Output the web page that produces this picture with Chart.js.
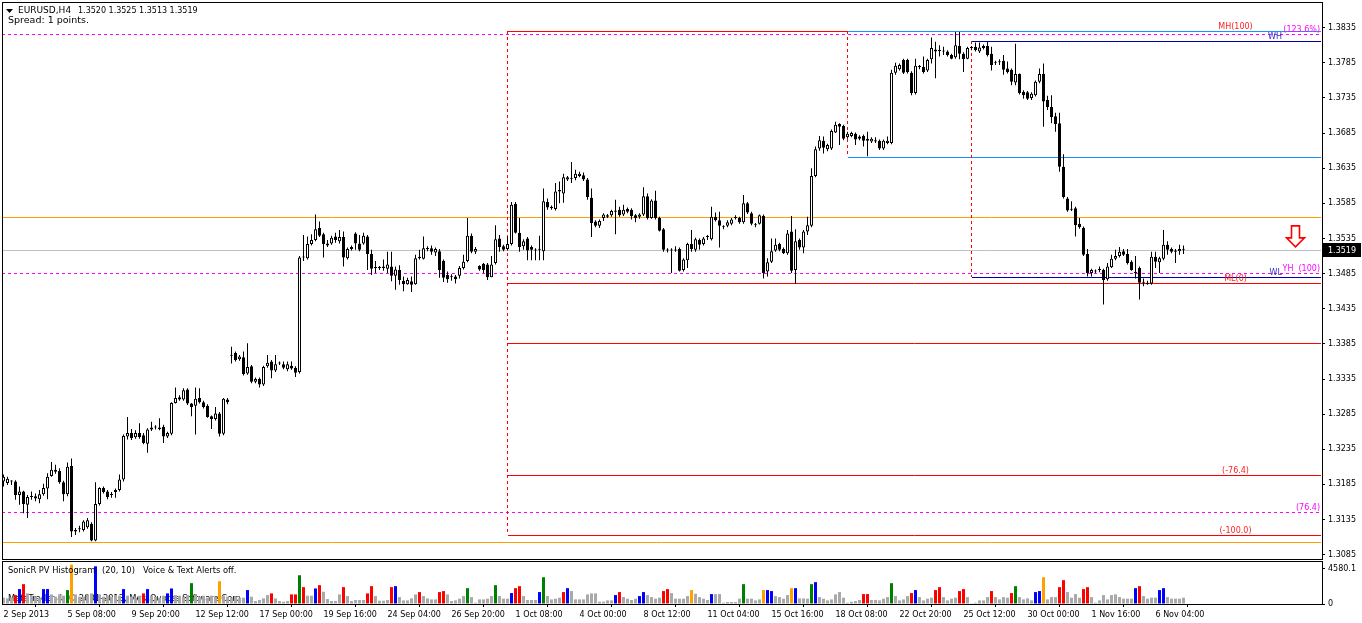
<!DOCTYPE html>
<html>
<head>
<meta charset="utf-8">
<script src="https://cdn.jsdelivr.net/npm/chart.js@4.4.1/dist/chart.umd.min.js"></script>
<style>
html, body { margin:0; padding:0; background:#fff; overflow:hidden; }
#wrap { position:relative; width:1362px; height:623px; }
#priceBox { position:absolute; left:0; top:0; width:1362px; height:560px; }
#volBox { position:absolute; left:0; top:560px; width:1362px; height:63px; }
</style>
</head>
<body>
<div id="wrap">
  <div id="priceBox"><canvas id="priceChart"></canvas></div>
  <div id="volBox"><canvas id="volChart"></canvas></div>
</div>
<script>
// EURUSD H4 candles, 2 Sep 2013 -> 6 Nov 2013
const opens = [
1.3189,1.3187,1.3190,1.3189,1.3170,1.3175,1.3156,1.3167,1.3168,1.3164,1.3171,1.3179,1.3197,1.3206,1.3204,1.3188,1.3171,1.3211,1.3118,1.3121,
1.3120,1.3124,1.3129,1.3105,1.3157,1.3180,1.3175,1.3170,1.3174,1.3177,1.3192,1.3253,1.3258,1.3252,1.3258,1.3255,1.3243,1.3263,1.3266,1.3266,
1.3267,1.3253,1.3257,1.3301,1.3309,1.3306,1.3320,1.3300,1.3297,1.3308,1.3302,1.3297,1.3282,1.3278,1.3286,1.3257,1.3306,1.3368,1.3372,1.3363,
1.3366,1.3343,1.3353,1.3331,1.3335,1.3327,1.3353,1.3360,1.3347,1.3357,1.3356,1.3349,1.3354,1.3351,1.3345,1.3508,1.3507,1.3527,1.3533,1.3550,
1.3541,1.3528,1.3528,1.3538,1.3531,1.3537,1.3507,1.3520,1.3542,1.3528,1.3528,1.3538,1.3513,1.3493,1.3493,1.3493,1.3492,1.3495,1.3482,1.3490,
1.3475,1.3470,1.3474,1.3470,1.3507,1.3506,1.3521,1.3521,1.3515,1.3517,1.3503,1.3483,1.3480,1.3481,1.3482,1.3493,1.3503,1.3539,1.3516,1.3496,
1.3499,1.3498,1.3480,1.3500,1.3535,1.3524,1.3520,1.3527,1.3584,1.3543,1.3524,1.3535,1.3523,1.3519,1.3519,1.3517,1.3587,1.3580,1.3577,1.3602,
1.3599,1.3619,1.3620,1.3621,1.3624,1.3625,1.3619,1.3593,1.3559,1.3553,1.3564,1.3566,1.3568,1.3575,1.3576,1.3569,1.3577,1.3576,1.3568,1.3566,
1.3569,1.3595,1.3564,1.3589,1.3564,1.3548,1.3519,1.3518,1.3519,1.3520,1.3490,1.3504,1.3527,1.3519,1.3533,1.3527,1.3537,1.3534,1.3566,1.3561,
1.3551,1.3553,1.3556,1.3565,1.3564,1.3558,1.3585,1.3571,1.3555,1.3556,1.3567,1.3488,1.3502,1.3518,1.3527,1.3520,1.3514,1.3545,1.3490,1.3533,
1.3522,1.3545,1.3553,1.3624,1.3663,1.3674,1.3662,1.3663,1.3686,1.3698,1.3695,1.3679,1.3681,1.3684,1.3680,1.3681,1.3674,1.3673,1.3675,1.3674,
1.3663,1.3671,1.3671,1.3771,1.3776,1.3789,1.3789,1.3771,1.3742,1.3780,1.3779,1.3774,1.3790,1.3801,1.3803,1.3801,1.3801,1.3796,1.3793,1.3809,
1.3798,1.3791,1.3806,1.3808,1.3801,1.3806,1.3809,1.3798,1.3785,1.3786,1.3788,1.3777,1.3775,1.3757,1.3769,1.3744,1.3743,1.3735,1.3739,1.3758,
1.3769,1.3732,1.3722,1.3709,1.3699,1.3637,1.3592,1.3576,1.3578,1.3556,1.3550,1.3513,1.3486,1.3488,1.3490,1.3490,1.3477,1.3494,1.3506,1.3510,
1.3517,1.3513,1.3502,1.3486,1.3493,1.3472,1.3470,1.3471,1.3509,1.3501,1.3506,1.3526,1.3520,1.3518,1.3517,1.3520
];
const highs = [
1.3199,1.3196,1.3191,1.3191,1.3182,1.3176,1.3170,1.3175,1.3172,1.3177,1.3186,1.3201,1.3217,1.3213,1.3208,1.3190,1.3216,1.3222,1.3123,1.3126,
1.3134,1.3137,1.3131,1.3188,1.3181,1.3182,1.3177,1.3174,1.3179,1.3199,1.3256,1.3281,1.3264,1.3262,1.3272,1.3258,1.3265,1.3274,1.3269,1.3279,
1.3270,1.3260,1.3302,1.3323,1.3312,1.3322,1.3322,1.3301,1.3323,1.3322,1.3304,1.3299,1.3283,1.3295,1.3288,1.3308,1.3308,1.3381,1.3374,1.3369,
1.3374,1.3386,1.3355,1.3337,1.3337,1.3354,1.3369,1.3362,1.3369,1.3360,1.3360,1.3360,1.3360,1.3353,1.3510,1.3540,1.3538,1.3541,1.3569,1.3559,
1.3543,1.3533,1.3539,1.3543,1.3547,1.3545,1.3522,1.3525,1.3544,1.3540,1.3543,1.3540,1.3519,1.3503,1.3496,1.3505,1.3516,1.3516,1.3495,1.3497,
1.3481,1.3479,1.3481,1.3512,1.3519,1.3538,1.3524,1.3525,1.3522,1.3520,1.3505,1.3488,1.3484,1.3483,1.3496,1.3512,1.3564,1.3542,1.3523,1.3497,
1.3500,1.3500,1.3510,1.3554,1.3540,1.3526,1.3538,1.3587,1.3587,1.3564,1.3534,1.3537,1.3525,1.3521,1.3539,1.3606,1.3592,1.3582,1.3614,1.3616,
1.3627,1.3624,1.3644,1.3633,1.3630,1.3629,1.3621,1.3606,1.3561,1.3562,1.3571,1.3570,1.3576,1.3590,1.3580,1.3583,1.3579,1.3578,1.3570,1.3571,
1.3608,1.3599,1.3591,1.3603,1.3566,1.3550,1.3521,1.3521,1.3524,1.3522,1.3507,1.3529,1.3547,1.3536,1.3535,1.3537,1.3540,1.3580,1.3572,1.3573,
1.3554,1.3561,1.3564,1.3568,1.3566,1.3597,1.3587,1.3573,1.3557,1.3569,1.3569,1.3507,1.3535,1.3535,1.3529,1.3522,1.3547,1.3567,1.3548,1.3535,
1.3547,1.3566,1.3635,1.3666,1.3681,1.3680,1.3670,1.3690,1.3701,1.3699,1.3697,1.3687,1.3687,1.3686,1.3682,1.3683,1.3687,1.3679,1.3679,1.3676,
1.3676,1.3680,1.3775,1.3785,1.3784,1.3791,1.3791,1.3773,1.3791,1.3782,1.3794,1.3791,1.3821,1.3815,1.3810,1.3808,1.3803,1.3798,1.3829,1.3829,
1.3800,1.3808,1.3809,1.3814,1.3814,1.3811,1.3815,1.3808,1.3788,1.3790,1.3796,1.3787,1.3777,1.3812,1.3770,1.3746,1.3745,1.3743,1.3760,1.3777,
1.3784,1.3738,1.3739,1.3714,1.3714,1.3655,1.3594,1.3588,1.3580,1.3564,1.3552,1.3520,1.3492,1.3491,1.3495,1.3492,1.3500,1.3512,1.3519,1.3523,
1.3520,1.3520,1.3504,1.3510,1.3495,1.3478,1.3475,1.3516,1.3516,1.3509,1.3547,1.3531,1.3522,1.3520,1.3526,1.3525
];
const lows = [
1.3182,1.3184,1.3184,1.3163,1.3156,1.3144,1.3137,1.3163,1.3161,1.3158,1.3169,1.3164,1.3196,1.3200,1.3186,1.3161,1.3168,1.3110,1.3113,1.3117,
1.3118,1.3122,1.3104,1.3104,1.3155,1.3172,1.3164,1.3166,1.3166,1.3175,1.3189,1.3249,1.3248,1.3250,1.3250,1.3242,1.3230,1.3261,1.3263,1.3262,
1.3244,1.3251,1.3255,1.3300,1.3304,1.3304,1.3298,1.3282,1.3256,1.3300,1.3293,1.3280,1.3264,1.3276,1.3253,1.3255,1.3299,1.3357,1.3360,1.3361,
1.3340,1.3341,1.3329,1.3329,1.3323,1.3325,1.3351,1.3336,1.3345,1.3355,1.3349,1.3346,1.3348,1.3338,1.3343,1.3503,1.3505,1.3525,1.3531,1.3537,
1.3508,1.3523,1.3526,1.3529,1.3528,1.3495,1.3505,1.3518,1.3519,1.3517,1.3526,1.3490,1.3483,1.3486,1.3490,1.3489,1.3486,1.3474,1.3462,1.3469,
1.3460,1.3469,1.3459,1.3469,1.3505,1.3505,1.3517,1.3512,1.3510,1.3479,1.3473,1.3472,1.3475,1.3471,1.3478,1.3491,1.3501,1.3514,1.3513,1.3489,
1.3486,1.3476,1.3480,1.3498,1.3516,1.3517,1.3518,1.3525,1.3542,1.3516,1.3519,1.3504,1.3504,1.3504,1.3504,1.3504,1.3576,1.3576,1.3575,1.3585,
1.3586,1.3617,1.3614,1.3618,1.3622,1.3617,1.3590,1.3537,1.3551,1.3550,1.3560,1.3564,1.3566,1.3541,1.3566,1.3567,1.3571,1.3562,1.3558,1.3563,
1.3567,1.3562,1.3563,1.3562,1.3545,1.3516,1.3515,1.3486,1.3516,1.3488,1.3488,1.3493,1.3516,1.3516,1.3519,1.3525,1.3533,1.3532,1.3559,1.3522,
1.3548,1.3551,1.3554,1.3562,1.3556,1.3556,1.3570,1.3554,1.3551,1.3555,1.3478,1.3481,1.3500,1.3516,1.3517,1.3513,1.3512,1.3486,1.3471,1.3519,
1.3514,1.3540,1.3551,1.3622,1.3660,1.3656,1.3659,1.3661,1.3685,1.3668,1.3675,1.3677,1.3679,1.3668,1.3675,1.3666,1.3652,1.3671,1.3671,1.3661,
1.3661,1.3669,1.3669,1.3768,1.3774,1.3769,1.3770,1.3739,1.3740,1.3776,1.3770,1.3772,1.3784,1.3763,1.3794,1.3796,1.3794,1.3790,1.3791,1.3790,
1.3772,1.3790,1.3803,1.3801,1.3799,1.3804,1.3794,1.3774,1.3782,1.3782,1.3768,1.3770,1.3753,1.3753,1.3740,1.3734,1.3732,1.3732,1.3737,1.3756,
1.3694,1.3718,1.3699,1.3687,1.3630,1.3592,1.3573,1.3574,1.3538,1.3549,1.3510,1.3481,1.3481,1.3486,1.3487,1.3441,1.3475,1.3493,1.3504,1.3508,
1.3510,1.3498,1.3489,1.3478,1.3448,1.3467,1.3469,1.3469,1.3493,1.3486,1.3504,1.3512,1.3514,1.3500,1.3512,1.3513
];
const closes = [
1.3196,1.3193,1.3189,1.3170,1.3175,1.3157,1.3167,1.3168,1.3165,1.3171,1.3180,1.3196,1.3206,1.3203,1.3188,1.3171,1.3210,1.3118,1.3120,1.3121,
1.3132,1.3134,1.3105,1.3157,1.3180,1.3174,1.3167,1.3170,1.3177,1.3192,1.3254,1.3258,1.3251,1.3258,1.3252,1.3244,1.3263,1.3266,1.3266,1.3264,
1.3253,1.3258,1.3301,1.3308,1.3306,1.3319,1.3300,1.3295,1.3307,1.3302,1.3295,1.3281,1.3278,1.3286,1.3257,1.3307,1.3302,1.3368,1.3362,1.3367,
1.3342,1.3352,1.3331,1.3335,1.3327,1.3352,1.3358,1.3347,1.3356,1.3357,1.3351,1.3356,1.3350,1.3344,1.3508,1.3509,1.3527,1.3533,1.3548,1.3539,
1.3527,1.3525,1.3536,1.3533,1.3537,1.3508,1.3520,1.3523,1.3528,1.3519,1.3539,1.3513,1.3492,1.3493,1.3493,1.3495,1.3498,1.3482,1.3491,1.3476,
1.3470,1.3476,1.3469,1.3507,1.3509,1.3521,1.3520,1.3516,1.3520,1.3490,1.3479,1.3477,1.3480,1.3477,1.3493,1.3502,1.3539,1.3516,1.3520,1.3491,
1.3490,1.3480,1.3498,1.3534,1.3523,1.3519,1.3527,1.3583,1.3543,1.3523,1.3531,1.3518,1.3519,1.3518,1.3519,1.3588,1.3579,1.3578,1.3602,1.3604,
1.3622,1.3622,1.3620,1.3627,1.3627,1.3619,1.3594,1.3557,1.3553,1.3560,1.3569,1.3568,1.3574,1.3573,1.3568,1.3576,1.3573,1.3567,1.3564,1.3569,
1.3595,1.3564,1.3589,1.3564,1.3546,1.3519,1.3518,1.3519,1.3518,1.3489,1.3505,1.3527,1.3520,1.3534,1.3526,1.3535,1.3537,1.3566,1.3561,1.3553,
1.3551,1.3558,1.3562,1.3564,1.3558,1.3585,1.3572,1.3556,1.3554,1.3568,1.3486,1.3501,1.3517,1.3526,1.3519,1.3514,1.3542,1.3489,1.3531,1.3522,
1.3545,1.3554,1.3624,1.3662,1.3675,1.3664,1.3668,1.3688,1.3697,1.3694,1.3677,1.3684,1.3685,1.3676,1.3677,1.3674,1.3677,1.3677,1.3673,1.3663,
1.3674,1.3674,1.3771,1.3781,1.3782,1.3771,1.3772,1.3742,1.3781,1.3779,1.3772,1.3789,1.3806,1.3804,1.3802,1.3801,1.3796,1.3791,1.3810,1.3798,
1.3790,1.3806,1.3806,1.3803,1.3807,1.3809,1.3796,1.3782,1.3785,1.3786,1.3775,1.3772,1.3758,1.3769,1.3742,1.3739,1.3734,1.3741,1.3758,1.3769,
1.3730,1.3722,1.3708,1.3698,1.3637,1.3594,1.3575,1.3576,1.3554,1.3551,1.3512,1.3486,1.3490,1.3488,1.3490,1.3476,1.3495,1.3506,1.3510,1.3516,
1.3512,1.3500,1.3490,1.3486,1.3472,1.3472,1.3472,1.3509,1.3502,1.3507,1.3526,1.3519,1.3516,1.3516,1.3520,1.3519
];
const volumes = [
820,730,820,1160,1940,2580,1380,1080,950,820,1940,1940,1250,950,1250,1080,1810,5120,1250,950,
950,1250,1380,4900,1250,950,1080,950,1160,1080,1940,1080,950,820,1080,1380,1940,1080,950,820,
1080,1380,2020,1160,1080,950,1160,2710,1160,950,1080,820,1080,950,2970,1080,950,820,950,730,
820,1810,950,390,520,730,1160,1380,730,390,300,390,1250,1250,3740,2190,1080,1080,2020,2450,
1590,650,390,390,1250,2190,1030,390,520,520,520,1380,2320,1030,430,430,520,2190,2320,900,
470,470,730,1250,1550,1030,730,600,600,1550,1680,1250,390,470,690,1030,2060,900,170,600,
600,690,1030,2450,1030,690,690,1420,2060,2320,1030,520,520,520,1550,3480,1030,600,690,820,
1550,2060,1680,600,600,600,1250,1380,1380,300,300,470,470,1160,1550,900,690,520,690,1030,
1550,1160,900,690,820,1680,1940,1420,690,690,690,1030,1810,1330,900,690,520,1290,1290,1290,
170,260,260,260,690,2580,690,690,470,600,1810,1810,1680,1030,900,690,1160,2060,2060,730,
730,690,2580,2840,900,690,470,600,1250,1550,820,170,300,390,520,1290,1290,520,520,470,
690,900,2710,1030,470,600,1030,1420,1810,900,470,690,820,1810,2190,900,470,690,820,1680,
1940,900,40,170,470,470,900,1680,900,600,900,820,1420,2320,900,600,730,470,1550,1680,
3480,600,900,900,2190,3100,1550,820,1290,820,1940,2190,900,170,470,1160,600,1160,1250,900,
690,690,690,2060,2320,1030,690,820,820,1810,2060,900,690,690,690,820
];
const redBars = [3,5,35,67,72,73,75,79,85,91,92,97,104,109,110,128,129,140,154,165,166,215,216,227,233,234,239,240,247,252,264,265,270,271,284];
const blueBars = [4,10,11,23,30,36,41,42,61,78,98,127,134,141,153,159,160,177,191,192,198,203,228,258,259,283,289,290];
const greenBars = [16,47,74,116,123,135,185,202,222,253];
const orangeBars = [17,54,172,190,197,260];

const tickBars = [0,16,32,48,64,80,96,112,128,144,160,176,192,208,224,240,256,272,288];
const tickLabels = ['2 Sep 2013','5 Sep 08:00','9 Sep 20:00','12 Sep 12:00','17 Sep 00:00','19 Sep 16:00','24 Sep 04:00',
  '26 Sep 20:00','1 Oct 08:00','4 Oct 00:00','8 Oct 12:00','11 Oct 04:00','15 Oct 16:00','18 Oct 08:00',
  '22 Oct 20:00','25 Oct 12:00','30 Oct 00:00','1 Nov 16:00','6 Nov 04:00'];
const priceTicks = [1.3835,1.3785,1.3735,1.3685,1.3635,1.3585,1.3535,1.3485,1.3435,1.3385,1.3335,1.3285,1.3235,1.3185,1.3135,1.3085];
const volTicks = [0, 4580.1];
const lastPrice = 1.3519;

// horizontal levels (null = chart edge)
const levelPrice = [1.3830,1.3830,1.3826,1.3816,1.3651,1.3566,1.3519,1.34855,1.3480,1.3471,1.3386,1.3198,1.3145,1.3113,1.3103];
const levelFrom  = [126,211,null,242,211,null,null,null,242,126,126,126,null,126,null];
const levelTo    = [211,null,null,null,null,null,null,null,null,null,null,null,null,null,null];
const levelColor = ['#ff0000','#1e90ff','#ff00ff','#00009c','#1e90ff','#ffa000','#c0c0c0','#ff00ff','#00009c','#ff0000','#ff0000','#ff0000','#ff00ff','#ff0000','#ffa000'];
const levelDashed = [false,false,true,false,false,false,false,true,false,false,false,false,true,false,false];

const vlineBar = [126, 211, 242];
const vlineTop = [1.3830, 1.3830, 1.3816];
const vlineBottom = [1.3113, 1.3651, 1.3480];

const labelText  = ['MH(100)','(123.6%)','WH','YH  (100)','WL','ML(0)','(-76.4)','(76.4)','(-100.0)'];
const labelPrice = [1.3830,1.3826,1.3816,1.34855,1.3480,1.3471,1.3198,1.3145,1.3113];
const labelBar   = [308,null,319.6,null,319.6,308,308,null,308];
const labelColor = ['#ff2020','#ff00ff','#3030c8','#ff00ff','#3030c8','#ff2020','#ff2020','#ff00ff','#ff2020'];

const arrowBar = 323;
const arrowPrice = 1.3553;

const xMin = -0.375, xMax = 329.625;
const priceMin = 1.30788, priceMax = 1.38716;
const volMax = 5590;

const FONT = '"DejaVu Sans"';
const idx = opens.map((_, i) => i);

function volColor(i) {
    if (redBars.includes(i)) return '#ff0000';
    if (blueBars.includes(i)) return '#0000ff';
    if (greenBars.includes(i)) return '#008000';
    if (orangeBars.includes(i)) return '#ffa000';
    return '#a9a9a9';
}

function txt(ctx, s, x, y, color, size, align, base) {
    ctx.save();
    ctx.font = size + 'px ' + FONT;
    ctx.fillStyle = color;
    ctx.textAlign = align || 'left';
    ctx.textBaseline = base || 'middle';
    ctx.fillText(s, x, y);
    ctx.restore();
}

function frame(chart) {
    const a = chart.chartArea, ctx = chart.ctx;
    ctx.save();
    ctx.strokeStyle = '#000';
    ctx.lineWidth = 1;
    ctx.strokeRect(Math.round(a.left) + 0.5, Math.round(a.top) + 0.5, Math.round(a.right - a.left), Math.round(a.bottom - a.top));
    ctx.restore();
}

// y axes: fixed width, no extra padding so the plot fills the panel
function fitY(s) {
    s.width = 40;
    s.paddingTop = 0;
    s.paddingBottom = 0;
}

const levelsPlugin = {
    id: 'levels',
    beforeDatasetsDraw(chart) {
        const ctx = chart.ctx, xs = chart.scales.x, ys = chart.scales.y;
        ctx.save();
        ctx.lineWidth = 1;
        levelPrice.forEach((p, k) => {
            const y = Math.round(ys.getPixelForValue(p)) + 0.5;
            const x0 = xs.getPixelForValue(levelFrom[k] === null ? xMin : levelFrom[k]);
            const x1 = xs.getPixelForValue(levelTo[k] === null ? xMax : levelTo[k]);
            ctx.strokeStyle = levelColor[k];
            ctx.setLineDash(levelDashed[k] ? [3, 3] : []);
            ctx.beginPath(); ctx.moveTo(Math.round(x0), y); ctx.lineTo(Math.round(x1) - 1, y); ctx.stroke();
        });
        ctx.strokeStyle = '#ff0000';
        ctx.setLineDash([3, 3]);
        vlineBar.forEach((b, k) => {
            const x = Math.floor(xs.getPixelForValue(b)) + 0.5;
            ctx.beginPath();
            ctx.moveTo(x, Math.round(ys.getPixelForValue(vlineTop[k])));
            ctx.lineTo(x, Math.round(ys.getPixelForValue(vlineBottom[k])));
            ctx.stroke();
        });
        ctx.restore();
    },
    afterDatasetsDraw(chart) {
        const ctx = chart.ctx, xs = chart.scales.x, ys = chart.scales.y, a = chart.chartArea;
        labelText.forEach((s, k) => {
            const y = Math.round(ys.getPixelForValue(labelPrice[k])) - 0.5;
            if (labelBar[k] === null) txt(ctx, s, a.right - 2, y, labelColor[k], 8, 'right', 'bottom');
            else if (labelColor[k] === '#3030c8') txt(ctx, s, xs.getPixelForValue(labelBar[k]), y, labelColor[k], 8, 'right', 'bottom');
            else txt(ctx, s, xs.getPixelForValue(labelBar[k]), y, labelColor[k], 8, 'center', 'bottom');
        });
        // down arrow signal
        const ax = xs.getPixelForValue(arrowBar), ay = ys.getPixelForValue(arrowPrice);
        ctx.save();
        ctx.beginPath();
        ctx.moveTo(ax - 4, ay); ctx.lineTo(ax + 4, ay); ctx.lineTo(ax + 4, ay + 12);
        ctx.lineTo(ax + 9, ay + 12); ctx.lineTo(ax, ay + 21); ctx.lineTo(ax - 9, ay + 12);
        ctx.lineTo(ax - 4, ay + 12); ctx.closePath();
        ctx.fillStyle = '#fff'; ctx.fill();
        ctx.strokeStyle = '#ff0000'; ctx.lineWidth = 1.6; ctx.stroke();
        ctx.restore();
    },
    afterDraw(chart) {
        const ctx = chart.ctx, ys = chart.scales.y, a = chart.chartArea;
        frame(chart);
        // last price box
        const y = Math.round(ys.getPixelForValue(lastPrice));
        ctx.fillStyle = '#000';
        ctx.fillRect(a.right + 1, y - 7, 38, 14);
        txt(ctx, lastPrice.toFixed(4), a.right + 6, y + 0.5, '#fff', 8);
        // header
        ctx.beginPath();
        ctx.moveTo(6, 9); ctx.lineTo(13, 9); ctx.lineTo(9.5, 13); ctx.closePath();
        ctx.fillStyle = '#000'; ctx.fill();
        txt(ctx, 'EURUSD,H4', 18, 11, '#000', 9);
        txt(ctx, opens[295].toFixed(4) + ' ' + highs[295].toFixed(4) + ' ' + lows[295].toFixed(4) + ' ' + closes[295].toFixed(4), 78, 11, '#000', 8);
        txt(ctx, 'Spread: 1 points.', 8, 21, '#000', 9.5);
    }
};

new Chart(document.getElementById('priceChart'), {
    type: 'bar',
    data: {
        datasets: [{
            label: 'body',
            data: idx.map(i => ({ x: i, y: [opens[i], closes[i]] })),
            backgroundColor: idx.map(i => closes[i] >= opens[i] ? '#ffffff' : '#000000'),
            borderColor: '#000',
            borderWidth: 1,
            borderSkipped: false,
            barThickness: 3,
            minBarLength: 1,
            inflateAmount: 0,
            grouped: false,
            order: 0
        }, {
            label: 'wick',
            data: idx.map(i => ({ x: i, y: [lows[i], highs[i]] })),
            backgroundColor: '#000',
            borderWidth: 0,
            barThickness: 1,
            minBarLength: 1,
            inflateAmount: 0,
            grouped: false,
            order: 1
        }]
    },
    options: {
        responsive: true,
        maintainAspectRatio: false,
        animation: false,
        devicePixelRatio: 1,
        layout: { padding: { left: 2, top: 2, right: 0, bottom: 1 } },
        plugins: { legend: { display: false }, tooltip: { enabled: false } },
        scales: {
            x: { type: 'linear', min: xMin, max: xMax, offset: false, display: false },
            y: {
                position: 'right', min: priceMin, max: priceMax,
                afterBuildTicks: s => { s.ticks = priceTicks.map(v => ({ value: v })); },
                afterFit: fitY,
                ticks: { autoSkip: false, padding: 3, color: '#000', font: { family: 'DejaVu Sans', size: 8 }, callback: v => v.toFixed(4) },
                grid: { drawOnChartArea: false, drawTicks: true, tickLength: 3, color: '#000' },
                border: { display: false }
            }
        }
    },
    plugins: [levelsPlugin]
});

const volPlugin = {
    id: 'volText',
    beforeDatasetsDraw(chart) {
        const ctx = chart.ctx;
        txt(ctx, 'MetaTrader 4, \u00a9 2001-2013, MetaQuotes Software Corp.', 8, 38.5, '#000', 8.3);
    },
    afterDraw(chart) {
        const ctx = chart.ctx;
        frame(chart);
        txt(ctx, 'SonicR PV Histogram', 8, 10.5, '#000', 8.3);
        txt(ctx, '(20, 10)', 102, 10.5, '#000', 8.3);
        txt(ctx, 'Voice & Text Alerts off.', 143, 10.5, '#000', 8.3);
    }
};

new Chart(document.getElementById('volChart'), {
    type: 'bar',
    data: {
        datasets: [{
            label: 'volume',
            data: idx.map(i => ({ x: i, y: volumes[i] })),
            backgroundColor: idx.map(volColor),
            borderWidth: 0,
            barThickness: 3,
            inflateAmount: 0,
            grouped: false
        }]
    },
    options: {
        responsive: true,
        maintainAspectRatio: false,
        animation: false,
        devicePixelRatio: 1,
        layout: { padding: { left: 2, top: 1, right: 0, bottom: 0 } },
        plugins: { legend: { display: false }, tooltip: { enabled: false } },
        scales: {
            x: {
                type: 'linear', min: xMin, max: xMax, offset: false,
                afterBuildTicks: s => { s.ticks = tickBars.map(v => ({ value: v })); },
                afterFit: s => { s.height = 19; s.paddingLeft = 0; s.paddingRight = 0; },
                ticks: { autoSkip: false, maxRotation: 0, align: 'start', padding: 3, color: '#000',
                    font: { family: 'DejaVu Sans', size: 8 }, callback: v => tickLabels[tickBars.indexOf(v)] },
                grid: { drawOnChartArea: false, drawTicks: true, tickLength: 3, color: '#000' },
                border: { display: false }
            },
            y: {
                position: 'right', min: 0, max: volMax,
                afterBuildTicks: s => { s.ticks = volTicks.map(v => ({ value: v })); },
                afterFit: fitY,
                ticks: { autoSkip: false, padding: 3, color: '#000', font: { family: 'DejaVu Sans', size: 8 },
                    callback: v => v === 0 ? '0' : v.toFixed(1) },
                grid: { drawOnChartArea: false, drawTicks: true, tickLength: 3, color: '#000' },
                border: { display: false }
            }
        }
    },
    plugins: [volPlugin]
});
</script>
</body>
</html>
